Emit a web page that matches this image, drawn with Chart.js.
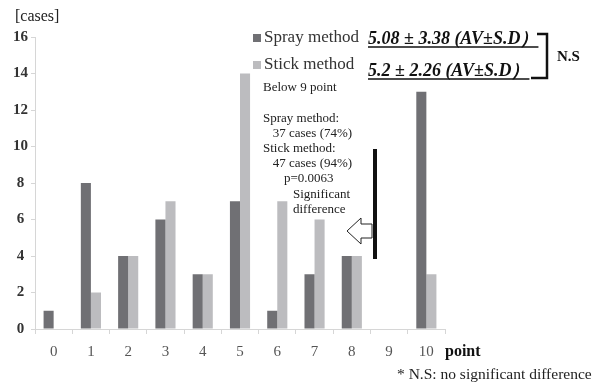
<!DOCTYPE html>
<html>
<head>
<meta charset="utf-8">
<script src="https://cdn.jsdelivr.net/npm/chart.js@4/dist/chart.umd.min.js"></script>
<style>
  html, body { margin: 0; padding: 0; background: #fff; }
  #wrap { width: 593px; height: 384px; }
</style>
</head>
<body>
<div id="wrap"><canvas id="myChart"></canvas></div>
<script>
// data
var points = ["0", "1", "2", "3", "4", "5", "6", "7", "8", "9", "10"];
var sprayCases = [1, 8, 4, 6, 3, 7, 1, 3, 4, 0, 13];
var stickCases = [0, 2, 4, 7, 3, 14, 7, 6, 4, 0, 3];
var seriesNames = ["Spray method", "Stick method"];
var statLines = ["5.08 \u00b1 3.38 (AV\u00b1S.D\uff09", "5.2 \u00b1 2.26 (AV\u00b1S.D\uff09"];
var noteLines = ["Below 9 point", "", "Spray method:", "   37 cases (74%)", "Stick method:", "   47 cases (94%)", "p=0.0063", "Significant", "difference"];

var colors = ["#707074", "#bcbcbf"];
var serif = "'Liberation Serif', 'DejaVu Serif', serif";

// legend, stats, notes etc drawn on top of the chart
var extrasPlugin = {
    id: "extras",
    afterDraw: function (chart) {
        var c = chart.ctx;
        c.save();
        c.textBaseline = "middle";

        // y axis title
        c.fillStyle = "#222";
        c.font = "16px " + serif;
        c.textAlign = "left";
        c.fillText("[cases]", 15, 17);

        // legend
        var legY = [38, 65];
        chart.data.datasets.forEach(function (ds, i) {
            c.fillStyle = ds.backgroundColor;
            c.fillRect(253, legY[i] - 4, 8, 8);
            c.fillStyle = "#333";
            c.font = "17px " + serif;
            c.fillText(ds.label, 264, legY[i]);
        });

        // AV +- SD lines, bold italic underlined
        var statY = [39, 71];
        c.font = "italic bold 18px " + serif;
        c.fillStyle = "#111";
        c.strokeStyle = "#111";
        c.lineWidth = 1.5;
        for (let i = 0; i < statLines.length; i++) {
            c.fillText(statLines[i], 368, statY[i]);
            let w = c.measureText(statLines[i]).width;
            c.beginPath();
            c.moveTo(368, statY[i] + 8);
            c.lineTo(368 + w, statY[i] + 8);
            c.stroke();
        }

        // bracket
        c.lineWidth = 2.5;
        c.beginPath();
        c.moveTo(537, 34);
        c.lineTo(547, 34);
        c.lineTo(547, 78);
        c.lineTo(531, 78);
        c.stroke();
        c.font = "bold 15px " + serif;
        c.fillText("N.S", 557, 57);

        // notes
        c.font = "13px " + serif;
        c.fillStyle = "#222";
        var ny = [88, 103, 119, 134, 149, 164, 179, 195, 210];
        var nx = [263, 263, 263, 263, 263, 263, 284, 293, 293];
        for (let i = 0; i < noteLines.length; i++) {
            c.fillText(noteLines[i], nx[i], ny[i]);
        }

        // thick vertical line
        c.strokeStyle = "#111";
        c.lineWidth = 4;
        c.beginPath();
        c.moveTo(375, 149);
        c.lineTo(375, 259);
        c.stroke();

        // hollow arrow pointing left
        c.lineWidth = 1;
        c.strokeStyle = "#222";
        c.fillStyle = "#fff";
        c.beginPath();
        c.moveTo(347, 231);
        c.lineTo(361, 218);
        c.lineTo(361, 224);
        c.lineTo(372, 224);
        c.lineTo(372, 238);
        c.lineTo(361, 238);
        c.lineTo(361, 244);
        c.closePath();
        c.fill();
        c.stroke();

        // x axis title and footnote
        c.fillStyle = "#111";
        c.font = "bold 16px " + serif;
        c.fillText("point", 445, 352);
        c.font = "15.5px " + serif;
        c.fillStyle = "#222";
        c.fillText("* N.S: no significant difference", 397, 375);

        c.restore();
    }
};

var ctx = document.getElementById("myChart");
var myChart = new Chart(ctx, {
    type: "bar",
    data: {
        labels: points,
        datasets: [
            { label: seriesNames[0], data: sprayCases, backgroundColor: colors[0] },
            { label: seriesNames[1], data: stickCases, backgroundColor: colors[1] }
        ]
    },
    options: {
        responsive: true,
        maintainAspectRatio: false,
        animation: false,
        devicePixelRatio: 1,
        layout: { padding: { left: 0, right: 148, top: 37, bottom: 0 } },
        datasets: {
            bar: { categoryPercentage: 0.54, barPercentage: 1 }
        },
        plugins: {
            legend: { display: false },
            tooltip: { enabled: false }
        },
        scales: {
            x: {
                grid: { offset: true, drawOnChartArea: false, tickLength: 5, color: "#d6d6d6" },
                border: { color: "#d6d6d6" },
                ticks: { color: "#555", padding: 9, font: { family: serif, size: 15 } },
                afterFit: function (scale) { scale.height = 55; }
            },
            y: {
                min: 0,
                max: 16,
                grid: { drawOnChartArea: false, tickLength: 4, color: "#d6d6d6" },
                border: { color: "#d6d6d6" },
                ticks: { stepSize: 2, color: "#333", padding: 3, crossAlign: "center", font: { family: serif, size: 15, weight: "bold" } },
                afterFit: function (scale) { scale.width = 35; }
            }
        }
    },
    plugins: [extrasPlugin]
});
</script>
</body>
</html>
